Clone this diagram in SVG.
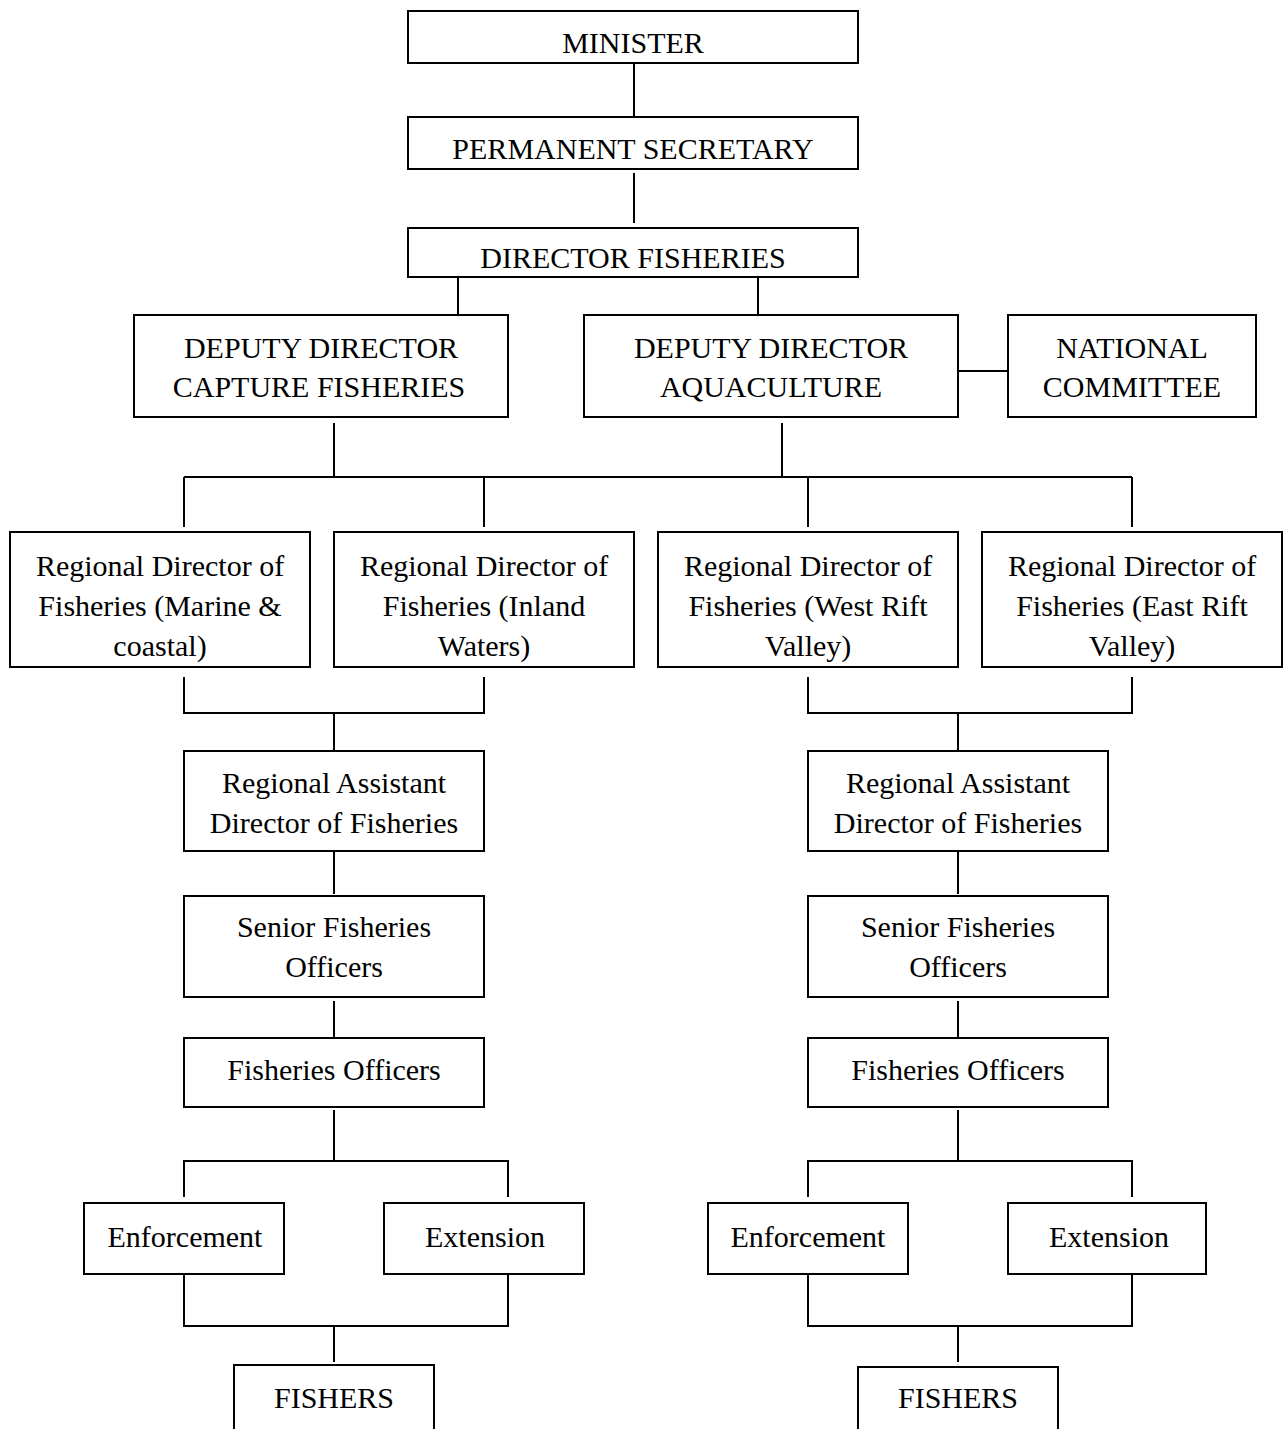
<svg xmlns="http://www.w3.org/2000/svg" width="1286" height="1429" viewBox="0 0 1286 1429">
<style>
rect.b{fill:#fff;stroke:#000;stroke-width:2}
text{font-family:"Liberation Serif","Times New Roman",serif;font-size:30px;fill:#000;text-anchor:middle}
#connectors path{fill:none;stroke:#000;stroke-width:2}
</style>
<rect width="1286" height="1429" fill="#fff"/>
<g id="connectors">
<path d="M634 63V117M634 173V223M458 277V315M758 277V315M958 371H1008"/>
<path d="M334 423V477M782 423V477M184 477H1132M184 477V527M484 477V527M808 477V527M1132 477V527"/>
<path d="M184 677V713H484V677M334 713V750M808 677V713H1132V677M958 713V750"/>
<path d="M334 851V894M334 1001V1037M958 851V894M958 1001V1037"/>
<path d="M334 1110V1161M184 1197V1161H508V1197M958 1110V1161M808 1197V1161H1132V1197"/>
<path d="M184 1274V1326H508V1274M334 1326V1362M808 1274V1326H1132V1274M958 1326V1362"/>
</g>
<g id="minister"><rect class="b" x="408" y="11" width="450" height="52"/><text x="633" y="53">MINISTER</text></g>
<g id="permanent-secretary"><rect class="b" x="408" y="117" width="450" height="52"/><text x="633" y="159">PERMANENT SECRETARY</text></g>
<g id="director-fisheries"><rect class="b" x="408" y="228" width="450" height="49"/><text x="633" y="268">DIRECTOR FISHERIES</text></g>
<g id="dd-capture"><rect class="b" x="134" y="315" width="374" height="102"/><text x="321" y="358">DEPUTY DIRECTOR</text><text x="319" y="397">CAPTURE FISHERIES</text></g>
<g id="dd-aquaculture"><rect class="b" x="584" y="315" width="374" height="102"/><text x="771" y="358">DEPUTY DIRECTOR</text><text x="771" y="397">AQUACULTURE</text></g>
<g id="national-committee"><rect class="b" x="1008" y="315" width="248" height="102"/><text x="1132" y="358">NATIONAL</text><text x="1132" y="397">COMMITTEE</text></g>
<g id="rd-marine"><rect class="b" x="10" y="532" width="300" height="135"/><text x="160" y="576">Regional Director of</text><text x="160" y="616">Fisheries (Marine &amp;</text><text x="160" y="656">coastal)</text></g>
<g id="rd-inland"><rect class="b" x="334" y="532" width="300" height="135"/><text x="484" y="576">Regional Director of</text><text x="484" y="616">Fisheries (Inland</text><text x="484" y="656">Waters)</text></g>
<g id="rd-west-rift"><rect class="b" x="658" y="532" width="300" height="135"/><text x="808" y="576">Regional Director of</text><text x="808" y="616">Fisheries (West Rift</text><text x="808" y="656">Valley)</text></g>
<g id="rd-east-rift"><rect class="b" x="982" y="532" width="300" height="135"/><text x="1132" y="576">Regional Director of</text><text x="1132" y="616">Fisheries (East Rift</text><text x="1132" y="656">Valley)</text></g>
<g id="rad-left"><rect class="b" x="184" y="751" width="300" height="100"/><text x="334" y="793">Regional Assistant</text><text x="334" y="833">Director of Fisheries</text></g>
<g id="rad-right"><rect class="b" x="808" y="751" width="300" height="100"/><text x="958" y="793">Regional Assistant</text><text x="958" y="833">Director of Fisheries</text></g>
<g id="sfo-left"><rect class="b" x="184" y="896" width="300" height="101"/><text x="334" y="937">Senior Fisheries</text><text x="334" y="977">Officers</text></g>
<g id="sfo-right"><rect class="b" x="808" y="896" width="300" height="101"/><text x="958" y="937">Senior Fisheries</text><text x="958" y="977">Officers</text></g>
<g id="fo-left"><rect class="b" x="184" y="1038" width="300" height="69"/><text x="334" y="1080">Fisheries Officers</text></g>
<g id="fo-right"><rect class="b" x="808" y="1038" width="300" height="69"/><text x="958" y="1080">Fisheries Officers</text></g>
<g id="enf-left"><rect class="b" x="84" y="1203" width="200" height="71"/><text x="185" y="1247">Enforcement</text></g>
<g id="ext-left"><rect class="b" x="384" y="1203" width="200" height="71"/><text x="485" y="1247">Extension</text></g>
<g id="enf-right"><rect class="b" x="708" y="1203" width="200" height="71"/><text x="808" y="1247">Enforcement</text></g>
<g id="ext-right"><rect class="b" x="1008" y="1203" width="198" height="71"/><text x="1109" y="1247">Extension</text></g>
<g id="fishers-left"><rect class="b" x="234" y="1365" width="200" height="80"/><text x="334" y="1408">FISHERS</text></g>
<g id="fishers-right"><rect class="b" x="858" y="1367" width="200" height="80"/><text x="958" y="1408">FISHERS</text></g>
</svg>
